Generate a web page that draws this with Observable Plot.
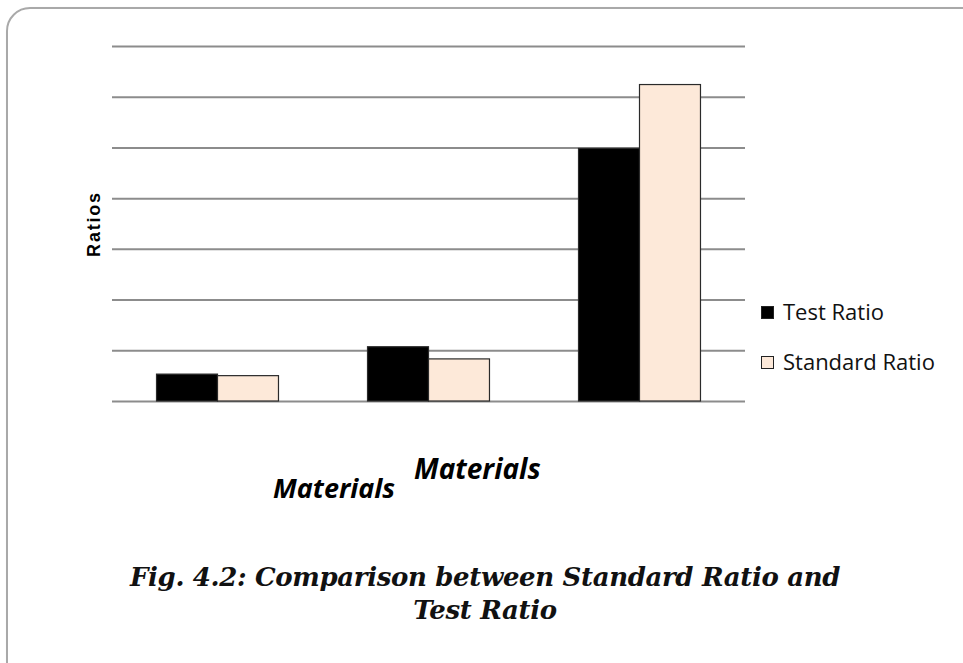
<!DOCTYPE html>
<html>
<head>
<meta charset="utf-8">
<script src="https://cdn.jsdelivr.net/npm/d3@7"></script>
<script src="https://cdn.jsdelivr.net/npm/@observablehq/plot@0.6"></script>
<style>
  html, body { margin: 0; padding: 0; background: #fff; }
  #wrap { position: relative; width: 963px; height: 663px; overflow: hidden; background: #fff; }
  #frame { position: absolute; left: 6px; top: 7px; width: 990px; height: 690px;
           border: 2px solid #a9a9a9; border-radius: 24px; box-sizing: border-box;
           box-shadow: 1px 1px 2px rgba(0,0,0,0.15); }
  #chart { position: absolute; left: 0; top: 0; }
  .t { position: absolute; white-space: nowrap; }
  #ylab { left: 94px; top: 224px; transform: translate(-50%, -50%) rotate(-90deg);
          font: 900 18px "Liberation Sans", Arial, sans-serif; letter-spacing: 1.8px; color: #000; }
  .leg { font: 22px "Open Sans", sans-serif; color: #111; line-height: 1; }
  .sw { position: absolute; width: 13px; height: 13px; box-sizing: border-box; border: 1.5px solid #222; }
  .mat { font: italic bold 28px "Open Sans", sans-serif; color: #000; line-height: 1; }
  .cap { font: italic bold 26px "DejaVu Serif", serif; color: #111; line-height: 1; left: 0; width: 970px; text-align: center; letter-spacing: -0.35px; }
</style>
</head>
<body>
<div id="wrap">
  <div id="frame"></div>
  <div id="chart"></div>
</div>
<script>
const materials = ["Material 1", "Material 2", "Material 3"];
const series = ["Test Ratio", "Standard Ratio"];
const testRatio = [0.53, 1.07, 4.98];
const standardRatio = [0.50, 0.83, 6.24];
const gridTicks = [0, 1, 2, 3, 4, 5, 6, 7];
const seriesColors = ["#000000", "#fde9d9"];
const yLabel = "Ratios";
const xLabel = "Materials";
const captionLines = ["Fig. 4.2: Comparison between Standard Ratio and", "Test Ratio"];

const data = [];
materials.forEach((m, i) => {
  data.push({material: m, series: series[0], value: testRatio[i]});
  data.push({material: m, series: series[1], value: standardRatio[i]});
});

const chart = Plot.plot({
  width: 963,
  height: 663,
  marginLeft: 111,
  marginRight: 217,
  marginTop: 46,
  marginBottom: 262,
  facet: {data, x: "material"},
  fx: {domain: materials, padding: 0, axis: null, label: null},
  x: {domain: series, paddingInner: 0, paddingOuter: 0.73, axis: null, round: false},
  y: {domain: [0, 7], axis: null},
  color: {domain: series, range: seriesColors},
  style: {background: "transparent"},
  marks: [
    Plot.ruleY(gridTicks, {stroke: "#8c8c8c", strokeWidth: 2}),
    Plot.barY(data, {x: "series", y: "value", fill: "series", stroke: "#2a2a2a", strokeWidth: 1.2})
  ]
});
document.getElementById("chart").appendChild(chart);

const wrap = document.getElementById("wrap");
function addText(cls, txt, left, top, id) {
  const d = document.createElement("div");
  d.className = "t " + cls;
  d.textContent = txt;
  if (left != null) d.style.left = left + "px";
  if (top != null) d.style.top = top + "px";
  if (id) d.id = id;
  wrap.appendChild(d);
  return d;
}
addText("", yLabel, null, null, "ylab");

// legend
series.forEach((s, i) => {
  const sw = document.createElement("div");
  sw.className = "sw";
  sw.style.left = "761px";
  sw.style.top = (306 + i * 50) + "px";
  sw.style.background = seriesColors[i];
  wrap.appendChild(sw);
  addText("leg", s, 783, 300 + i * 50);
});

const m1 = addText("mat", xLabel, 273, 474);
m1.style.fontSize = "27px";
addText("mat", xLabel, 414, 454);

captionLines.forEach((line, i) => addText("cap", line, null, 564 + i * 33));
</script>
</body>
</html>
